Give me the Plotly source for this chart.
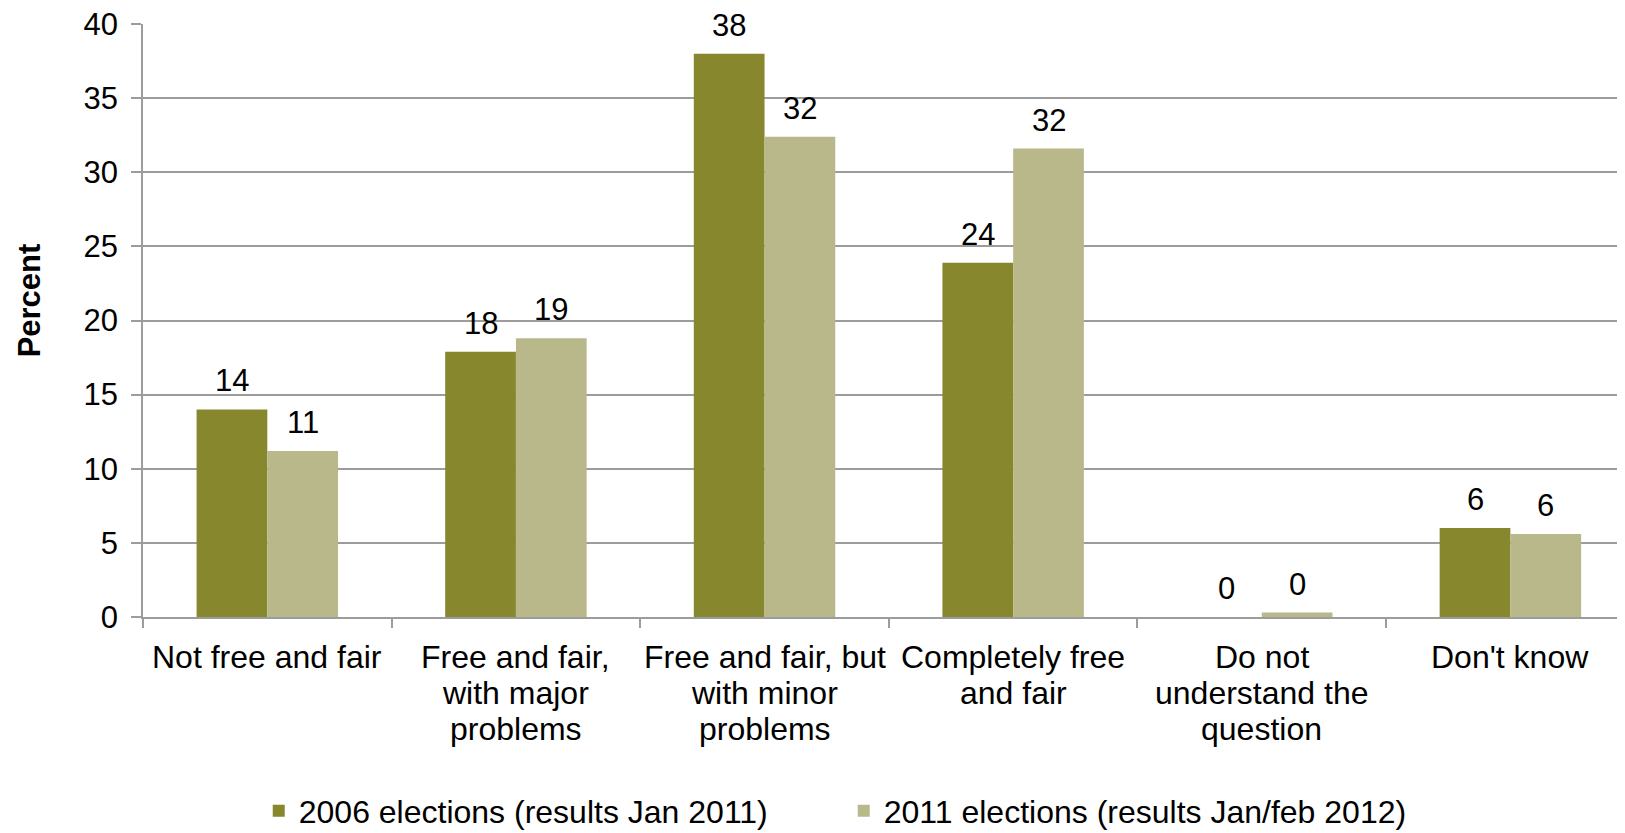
import plotly.graph_objects as go

categories = ["Not free and fair", "Free and fair, with major problems",
              "Free and fair, but with minor problems", "Completely free and fair",
              "Do not understand the question", "Don't know"]
label_lines = [["Not free and fair"],
               ["Free and fair,", "with major", "problems"],
               ["Free and fair, but", "with minor", "problems"],
               ["Completely free", "and fair"],
               ["Do not", "understand the", "question"],
               ["Don't know"]]
series_names = ["2006 elections (results Jan 2011)", "2011 elections (results Jan/feb 2012)"]
values_2006 = [14.0, 17.9, 38.0, 23.9, 0.0, 6.0]
values_2011 = [11.2, 18.8, 32.4, 31.6, 0.3, 5.6]
y_ticks = [0, 5, 10, 15, 20, 25, 30, 35, 40]

colors = ["#87872E", "#B9B88B"]
FONT = "Arial, Liberation Sans, sans-serif"
GRID = "#9c9c9c"

fig = go.Figure()
for name, vals, col in zip(series_names, [values_2006, values_2011], colors):
    fig.add_trace(go.Bar(x=categories, y=vals, name=name, marker_color=col,
                         marker_line_width=0))

# data labels above bars
bar_px = 70.7
for i, vals in enumerate([values_2006, values_2011]):
    shift = (-0.5 if i == 0 else 0.5) * bar_px
    for c, v in zip(categories, vals):
        fig.add_annotation(x=c, y=v, text=f"{round(v):d}", showarrow=False,
                           xshift=shift, yshift=9, yanchor="bottom",
                           font=dict(family=FONT, size=31, color="black"))

# category labels (multi-line, tighter line spacing)
for c, lines in zip(categories, label_lines):
    for k, line in enumerate(lines):
        fig.add_annotation(x=c, y=0, text=line, showarrow=False, yanchor="top",
                           yshift=-20 - 36 * k,
                           font=dict(family=FONT, size=32, color="black"))

fig.add_annotation(xref="paper", yref="paper", x=-0.0769, y=0.534, text="<b>Percent</b>",
                   textangle=-90, showarrow=False, xanchor="center", yanchor="middle",
                   font=dict(family=FONT, size=31, color="black"))

fig.update_layout(
    width=1617, height=825,
    margin=dict(l=135, r=0, t=16, b=216, autoexpand=False),
    plot_bgcolor="white", paper_bgcolor="white",
    barmode="group", bargap=0.431, bargroupgap=0,
    font=dict(family=FONT, size=30, color="black"),
    showlegend=True,
    legend=dict(orientation="h", x=0.0781, xanchor="left", y=-0.327, yanchor="middle",
                font=dict(family=FONT, size=32, color="black"),
                entrywidth=540, entrywidthmode="pixels", itemclick=False),
)
fig.update_xaxes(tickvals=categories, ticktext=[""] * len(categories), range=[-0.5, 5.461],
                 showline=True, linecolor=GRID, linewidth=1.5, automargin=False,
                 ticks="outside", tickson="boundaries", ticklen=9, tickcolor=GRID, tickwidth=1.5,
                 showgrid=False)
fig.update_yaxes(range=[0, 40], tickvals=y_ticks, showgrid=True, gridcolor=GRID, gridwidth=1.5,
                 showline=True, linecolor=GRID, linewidth=1.5, zeroline=False, automargin=False,
                 ticks="outside", ticklen=10, tickcolor=GRID, tickwidth=1.5, ticklabelstandoff=7,
                 ticklabeloverflow="allow",
                 tickfont=dict(family=FONT, size=31, color="black"))

fig.write_html("out.html")
